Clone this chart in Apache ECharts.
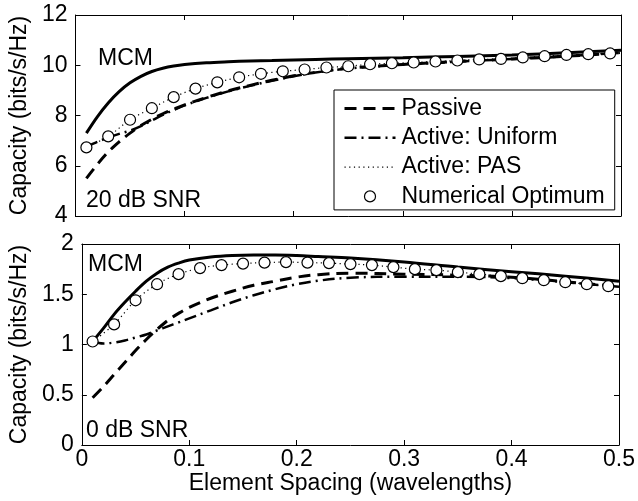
<!DOCTYPE html>
<html>
<head>
<meta charset="utf-8">
<script src="https://cdn.jsdelivr.net/npm/echarts@6/dist/echarts.min.js"></script>
<style>
html,body{margin:0;padding:0;background:#fff;}
#chart{width:638px;height:501px;}
</style>
</head>
<body>
<div id="chart"></div>
<script>
// Shared x grids (element spacing, wavelengths)
var xLine = [0.01,0.02,0.03,0.04,0.05,0.06,0.07,0.08,0.09,0.10,0.12,0.14,0.16,0.18,0.20,0.22,0.25,0.30,0.35,0.40,0.45,0.50];
var xPts  = [0.01,0.03,0.05,0.07,0.09,0.11,0.13,0.15,0.17,0.19,0.21,0.23,0.25,0.27,0.29,0.31,0.33,0.35,0.37,0.39,0.41,0.43,0.45,0.47,0.49];

// 20 dB SNR (top panel)
var topMCM     = [7.3,7.95,8.5,8.95,9.3,9.56,9.75,9.88,9.97,10.03,10.1,10.14,10.17,10.19,10.21,10.23,10.26,10.3,10.35,10.41,10.5,10.6];
var topPassive = [5.5,6.05,6.55,6.95,7.3,7.6,7.85,8.07,8.25,8.42,8.72,8.98,9.2,9.4,9.58,9.72,9.88,10.03,10.15,10.25,10.36,10.5];
var topUniform = [6.75,6.95,7.12,7.27,7.4,7.58,7.8,8.02,8.22,8.4,8.7,8.96,9.18,9.38,9.56,9.71,9.87,10.02,10.14,10.25,10.36,10.5];
var topPAS     = [6.73,7.17,7.83,8.29,8.73,9.07,9.32,9.52,9.66,9.76,9.83,9.91,9.96,10.04,10.08,10.11,10.15,10.19,10.23,10.25,10.31,10.36,10.41,10.44,10.47];
var topOpt     = [6.73,7.17,7.83,8.29,8.73,9.07,9.32,9.52,9.66,9.76,9.83,9.91,9.96,10.04,10.08,10.11,10.15,10.19,10.23,10.25,10.31,10.36,10.41,10.44,10.47];

// 0 dB SNR (bottom panel)
var botMCM     = [1.03,1.16,1.30,1.42,1.53,1.63,1.71,1.77,1.81,1.84,1.87,1.885,1.89,1.89,1.885,1.875,1.86,1.82,1.77,1.725,1.68,1.63];
var botPassive = [0.47,0.58,0.70,0.82,0.94,1.05,1.15,1.24,1.31,1.37,1.46,1.53,1.59,1.63,1.67,1.695,1.71,1.70,1.69,1.67,1.625,1.575];
var botUniform = [1.03,1.01,1.02,1.04,1.07,1.10,1.14,1.18,1.22,1.26,1.34,1.42,1.49,1.55,1.60,1.635,1.665,1.675,1.675,1.66,1.62,1.575];
var botPAS     = [1.03,1.20,1.44,1.60,1.70,1.76,1.79,1.805,1.815,1.82,1.815,1.81,1.80,1.79,1.77,1.75,1.74,1.72,1.70,1.68,1.66,1.64,1.62,1.60,1.58];
var botOpt     = [1.03,1.20,1.44,1.60,1.70,1.76,1.79,1.805,1.815,1.82,1.815,1.81,1.80,1.79,1.77,1.75,1.74,1.72,1.70,1.68,1.66,1.64,1.62,1.60,1.58];

var xTicks = [0,0.1,0.2,0.3,0.4,0.5];
var legendNames = ['Passive','Active: Uniform','Active: PAS','Numerical Optimum'];

function pairs(xs, ys){ return xs.map(function(x,i){ return [x, ys[i]]; }); }

var FONT = 'Liberation Sans, Arial, Helvetica, sans-serif';
var FS = 23;
var black = '#000';

var dashPassive = [12,7];
var dashUniform = [12,5,2,5];
var dashPAS = [1.2,3.5];
var noSym = {color:'rgba(0,0,0,0)', borderColor:'rgba(0,0,0,0)', borderWidth:0, opacity:0};

function xAx(grid, pos, labels){
  return {
    type:'value', gridIndex:grid, position:pos, min:0, max:0.5, interval:0.1,
    axisLine:{show:true, onZero:false, lineStyle:{color:black, width:1}},
    axisTick:{show:true, inside:true, length:5, lineStyle:{color:black, width:1}},
    axisLabel:{show:labels, color:black, fontFamily:FONT, fontSize:FS, margin:3,
      formatter:function(v){ return String(Math.round(v*10)/10); }},
    splitLine:{show:false},
    name: (labels ? 'Element Spacing (wavelengths)' : ''),
    nameLocation:'middle', nameGap:27,
    nameTextStyle:{color:black, fontFamily:FONT, fontSize:FS}
  };
}
function yAx(grid, pos, labels, mn, mx, iv){
  return {
    type:'value', gridIndex:grid, position:pos, min:mn, max:mx, interval:iv,
    axisLine:{show:true, onZero:false, lineStyle:{color:black, width:1}},
    axisTick:{show:true, inside:true, length:5, lineStyle:{color:black, width:1}},
    axisLabel:{show:labels, color:black, fontFamily:FONT, fontSize:FS, margin:8},
    splitLine:{show:false},
    name: (labels ? 'Capacity (bits/s/Hz)' : ''),
    nameLocation:'middle', nameGap:42, nameRotate:90,
    nameTextStyle:{color:black, fontFamily:FONT, fontSize:FS}
  };
}

function lineSeries(name, xi, yi, xs, ys, dash, w, z){
  return {
    name:name, type:'line', xAxisIndex:xi, yAxisIndex:yi,
    data:pairs(xs, ys), showSymbol:false, symbol:'none', smooth:0.35,
    lineStyle:{color:black, width:w, type:dash, cap:'butt'},
    itemStyle:{color:black}, z:z, silent:true
  };
}
function optSeries(xi, yi, ys){
  return {
    name:'Numerical Optimum', type:'scatter', xAxisIndex:xi, yAxisIndex:yi,
    data:pairs(xPts, ys), symbol:'circle', symbolSize:11,
    itemStyle:{color:'#fff', borderColor:black, borderWidth:1.2, opacity:1}, z:10, silent:true
  };
}

var chart = echarts.init(document.getElementById('chart'), null, {renderer:'canvas'});
chart.setOption({
  animation:false,
  backgroundColor:'#fff',
  textStyle:{fontFamily:FONT},
  grid:[
    {left:75, top:15, width:546, height:201, show:false},
    {left:75, top:244, width:546, height:201, show:false}
  ],
  xAxis:[ xAx(0,'bottom',false), xAx(0,'top',false), xAx(1,'bottom',true), xAx(1,'top',false) ],
  yAxis:[ yAx(0,'left',true,4,12,2), yAx(0,'right',false,4,12,2), yAx(1,'left',true,0,2,0.5), yAx(1,'right',false,0,2,0.5) ],
  legend:{
    show:true, orient:'vertical', left:334, top:90,
    padding:[7,10,2,9], itemGap:6.3, itemWidth:51, itemHeight:11,
    backgroundColor:'#fff', borderColor:black, borderWidth:1, borderRadius:0,
    textStyle:{color:black, fontFamily:FONT, fontSize:FS, padding:[0,0,0,1]},
    selectedMode:false,
    data:[
      {name:'Passive', itemStyle:noSym, lineStyle:{width:3, type:dashPassive, color:black}},
      {name:'Active: Uniform', itemStyle:noSym, lineStyle:{width:2.5, type:dashUniform, color:black}},
      {name:'Active: PAS', itemStyle:noSym, lineStyle:{width:1.2, type:dashPAS, color:black}},
      {name:'Numerical Optimum', icon:'circle', itemStyle:{color:'#fff', borderColor:black, borderWidth:1.2}}
    ]
  },
  graphic:[
    {type:'text', left:98, top:47, style:{text:'MCM', fill:black, font:FS+'px '+FONT}},
    {type:'text', left:86, top:189, style:{text:'20 dB SNR', fill:black, font:FS+'px '+FONT}},
    {type:'text', left:88, top:253, style:{text:'MCM', fill:black, font:FS+'px '+FONT}},
    {type:'text', left:86, top:419, style:{text:'0 dB SNR', fill:black, font:FS+'px '+FONT}}
  ],
  series:[
    lineSeries('MCM', 0, 0, xLine, topMCM, 'solid', 3, 3),
    lineSeries('Passive', 0, 0, xLine, topPassive, dashPassive, 3, 4),
    lineSeries('Active: Uniform', 0, 0, xLine, topUniform, dashUniform, 2.5, 5),
    lineSeries('Active: PAS', 0, 0, xPts, topPAS, dashPAS, 1.2, 6),
    optSeries(0, 0, topOpt),
    lineSeries('MCM', 2, 2, xLine, botMCM, 'solid', 3, 3),
    lineSeries('Passive', 2, 2, xLine, botPassive, dashPassive, 3, 4),
    lineSeries('Active: Uniform', 2, 2, xLine, botUniform, dashUniform, 2.5, 5),
    lineSeries('Active: PAS', 2, 2, xPts, botPAS, dashPAS, 1.2, 6),
    optSeries(2, 2, botOpt)
  ]
});
</script>
</body>
</html>
